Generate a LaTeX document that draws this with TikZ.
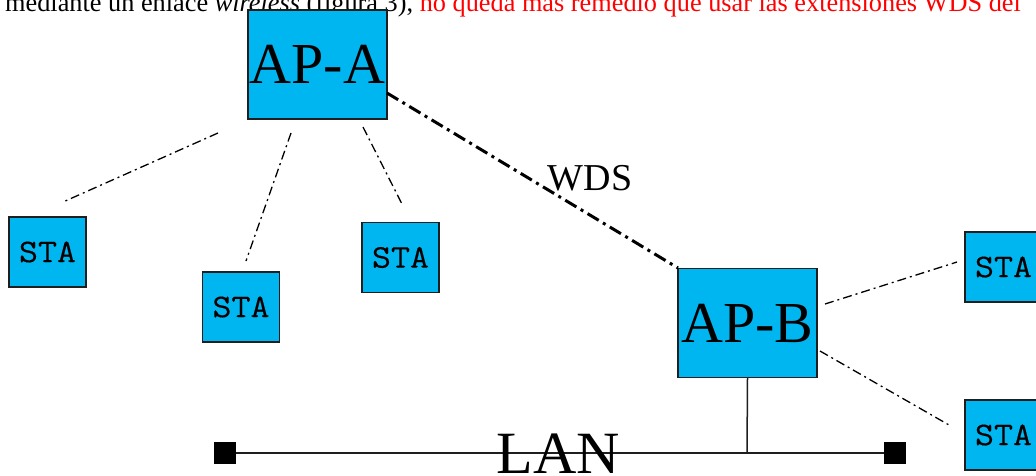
\documentclass[tikz,border=0pt]{standalone}
\usepackage{fontspec}
\setmainfont{Liberation Serif}
\newfontfamily\stafont[FakeStretch=1.12,FakeBold=0.2]{Latin Modern Mono}
\definecolor{boxblue}{RGB}{0,182,240}
\definecolor{edge}{RGB}{30,30,30}
\begin{document}
\begin{tikzpicture}[x=1pt,y=-1pt,
  apbox/.style={draw=edge,line width=1.4pt,fill=boxblue,minimum width=139pt,minimum height=109pt,inner sep=0pt,font=\fontsize{58}{58}\selectfont},
  stabox/.style={draw=edge,line width=1.4pt,fill=boxblue,minimum width=77pt,minimum height=70pt,inner sep=0pt,font=\stafont\fontsize{33}{33}\selectfont},
  wlink/.style={line width=1.3pt,dash pattern=on 9pt off 4pt on 2pt off 4pt},
  wds/.style={line width=3pt,dash pattern=on 13pt off 5pt on 3pt off 5pt},
  lanline/.style={line width=1.5pt,draw=edge},
  term/.style={fill=black,minimum size=22pt,inner sep=0pt}]
\useasboundingbox (0,0) rectangle (1036,475);
% top text line
\node[anchor=base west,inner sep=0pt,font=\fontsize{26.3}{26.3}\selectfont] (txt) at (5,11)
  {mediante un enlace \textit{wireless} (figura 3), \textcolor{red}{no queda más remedio que usar las extensiones WDS del}};
% boxes
\node[apbox] (apa) at (317.5,64.5) {AP-A};
\node[apbox] (apb) at (747.5,323) {AP-B};
\node[stabox] (s1) at (47.5,252) {STA};
\node[stabox] (s2) at (241,307) {STA};
\node[stabox] (s3) at (400.5,257.5) {STA};
\node[stabox] (s4) at (1003.5,267) {STA};
\node[stabox] (s5) at (1003.5,435) {STA};
% link end points
\coordinate (a1) at (218,133); \coordinate (e1) at (63,202);
\coordinate (a2) at (291,133); \coordinate (e2) at (246,261);
\coordinate (a3) at (363,127); \coordinate (e3) at (403,206);
\coordinate (w1) at (387,93);  \coordinate (w2) at (678,268);
\coordinate (b4) at (825,304); \coordinate (e4) at (957,262);
\coordinate (b5) at (820,351); \coordinate (e5) at (949,425);
\draw[wlink] (a1) -- (e1);
\draw[wlink] (a2) -- (e2);
\draw[wlink] (a3) -- (e3);
\draw[wlink] (b4) -- (e4);
\draw[wlink] (b5) -- (e5);
\draw[wds] (w1) -- (w2);
\node[font=\fontsize{38}{38}\selectfont,inner sep=0pt] (wdsl) at (590,178) {WDS};
% LAN
\node[term] (tl) at (225,453) {};
\node[term] (tr) at (895,453) {};
\coordinate (tap) at (747,453);
\draw[lanline] (tl) -- (tr);
\draw[lanline] (apb.south) -- (tap);
\node[font=\fontsize{60}{60}\selectfont,inner sep=0pt] (lan) at (558,454) {LAN};
\end{tikzpicture}
\end{document}
